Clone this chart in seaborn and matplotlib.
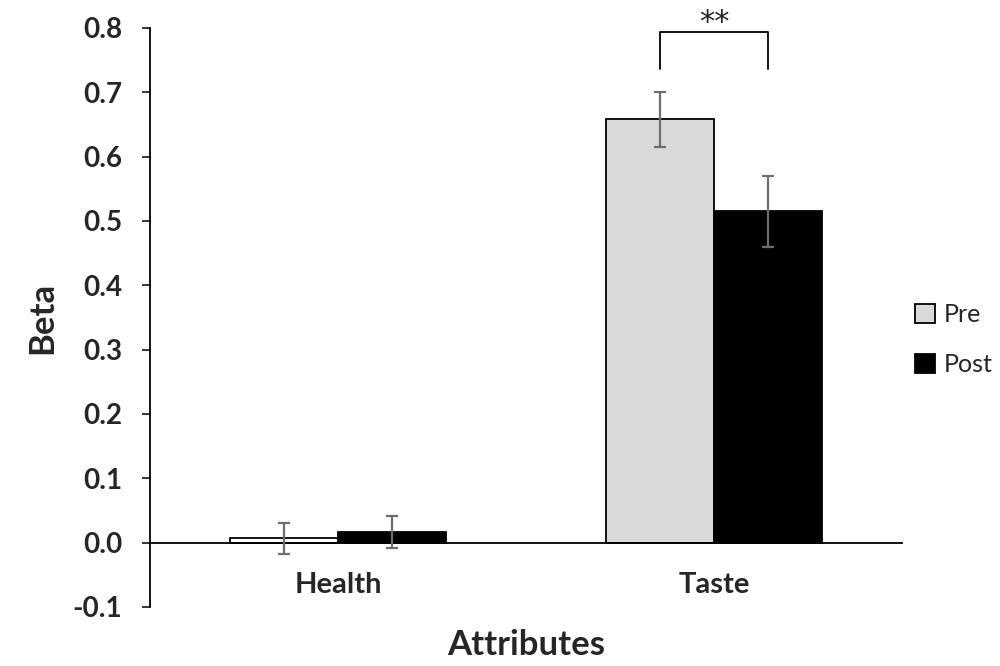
import numpy as np
import pandas as pd
import matplotlib
matplotlib.use("Agg")
import matplotlib.pyplot as plt
import seaborn as sns

# ─── Data ──────────────────────────────────────────────────────────────────────
attributes = ["Health", "Taste"]
phases     = ["Pre", "Post"]
pre_beta   = [0.007, 0.658]
post_beta  = [0.017, 0.515]
pre_err    = [0.024, 0.043]
post_err   = [0.025, 0.055]
y_ticks    = [-0.1, 0.0, 0.1, 0.2, 0.3, 0.4, 0.5, 0.6, 0.7, 0.8]
sig_label  = "**"

df = pd.DataFrame({
    "Attributes": attributes * 2,
    "Phase":      ["Pre"] * len(attributes) + ["Post"] * len(attributes),
    "Beta":       pre_beta + post_beta,
})
errs = {"Pre": pre_err, "Post": post_err}

# ─── Style ─────────────────────────────────────────────────────────────────────
sns.set_style("white")
plt.rcParams["font.family"] = ["Lato", "DejaVu Sans"]

PRE_COLOR  = "#d9d9d9"
POST_COLOR = "#000000"
ERR_COLOR  = "#6e6e6e"

fig = plt.figure(figsize=(10, 6.66), dpi=100)
ax = fig.add_axes([0.15, 0.0886, 0.752, 0.8694])

sns.barplot(data=df, x="Attributes", y="Beta", hue="Phase",
            order=attributes, hue_order=phases,
            palette=[PRE_COLOR, POST_COLOR], width=0.575,
            errorbar=None, edgecolor="black", linewidth=1.3,
            saturation=1, ax=ax)

# ── error bars from container positions ──
centers = {}
for phase, cont in zip(phases, ax.containers):
    xs = [p.get_x() + p.get_width() / 2 for p in cont.patches]
    ys = [p.get_height() for p in cont.patches]
    centers[phase] = xs
    ax.errorbar(xs, ys, yerr=errs[phase], fmt="none", ecolor=ERR_COLOR,
                elinewidth=1.6, capsize=4.5, capthick=1.6, zorder=5)

# Health "Pre" bar is drawn white in the original
ax.containers[0].patches[0].set_facecolor("white")

# ── significance bracket over Taste ──
x1, x2 = centers["Pre"][1], centers["Post"][1]
top, drop = 0.793, 0.056
ax.plot([x1, x1, x2, x2], [top - drop, top, top, top - drop],
        color="black", lw=1.3, clip_on=False)
ax.text((x1 + x2) / 2, top + 0.003, sig_label, ha="center", va="baseline",
        fontsize=22, family=["DejaVu Sans"], clip_on=False)

# ── spines (before ticks: set_position resets tick labels) ──
ax.spines["top"].set_visible(False)
ax.spines["right"].set_visible(False)
ax.spines["bottom"].set_position(("data", 0))
for s in ("left", "bottom"):
    ax.spines[s].set_color("black")
    ax.spines[s].set_linewidth(1.3)

# ── axes ──
ax.set_xlim(-0.5, 1.5)
ax.set_ylim(-0.1, 0.8)
ax.set_yticks(y_ticks)
ax.set_yticklabels([f"{v:.1f}" for v in y_ticks], fontsize=20, fontweight="bold")
ax.set_xticks(range(len(attributes)))
ax.set_xticklabels(attributes, fontsize=21, fontweight="bold")
ax.tick_params(axis="y", direction="out", length=6, width=1.3, left=True, pad=14)
ax.tick_params(axis="x", length=0, pad=21)

ax.set_ylabel("Beta", fontsize=25, fontweight="bold", labelpad=10)
ax.set_xlabel("")
fig.text(0.526, 0.032, "Attributes", ha="center", va="center",
         fontsize=25, fontweight="bold")

ax.legend_.remove()
handles = [plt.Rectangle((0, 0), 1, 1, facecolor=PRE_COLOR, edgecolor="black", lw=1.3),
           plt.Rectangle((0, 0), 1, 1, facecolor=POST_COLOR, edgecolor="black", lw=1.3)]
fig.legend(handles, phases, loc="center left", bbox_to_anchor=(0.91, 0.49),
           frameon=False, fontsize=18, handlelength=0.8, handleheight=0.8,
           handletextpad=0.35, labelspacing=1.1, borderaxespad=0, borderpad=0.2)

plt.savefig("out.png", dpi=100)
plt.close()
